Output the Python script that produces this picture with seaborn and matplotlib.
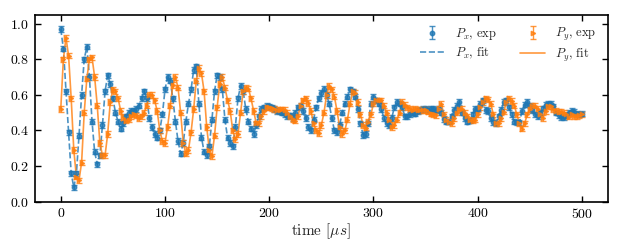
"""
plot.py
Damped precession of P_x and P_y: measured points with error bars and fits.
"""

import numpy as np
import pandas as pd
import matplotlib
matplotlib.use('Agg')  # Use non-interactive backend
import matplotlib.pyplot as plt
import seaborn as sns

# time grid in microseconds (0 .. 500, every 2.5 us)
time_us = np.arange(0, 500.1, 2.5)

px_exp = [
    0.97, 0.86, 0.62, 0.39, 0.16, 0.08, 0.16, 0.37, 0.60, 0.80,
    0.87, 0.70, 0.45, 0.28, 0.21, 0.26, 0.43, 0.62, 0.71, 0.66,
    0.58, 0.50, 0.45, 0.41, 0.44, 0.48, 0.50, 0.51, 0.51, 0.52,
    0.54, 0.58, 0.62, 0.58, 0.47, 0.42, 0.38, 0.36, 0.40, 0.49,
    0.63, 0.70, 0.68, 0.58, 0.45, 0.34, 0.27, 0.33, 0.45, 0.55,
    0.63, 0.74, 0.76, 0.55, 0.36, 0.28, 0.26, 0.31, 0.46, 0.62,
    0.71, 0.70, 0.63, 0.46, 0.36, 0.33, 0.31, 0.42, 0.58, 0.65,
    0.62, 0.52, 0.45, 0.41, 0.38, 0.43, 0.48, 0.52, 0.53, 0.54,
    0.535, 0.53, 0.52, 0.51, 0.505, 0.50, 0.49, 0.48, 0.485, 0.47,
    0.50, 0.53, 0.54, 0.51, 0.47, 0.42, 0.40, 0.46, 0.53, 0.58,
    0.61, 0.635, 0.60, 0.55, 0.47, 0.40, 0.39, 0.43, 0.50, 0.55,
    0.59, 0.63, 0.62, 0.59, 0.52, 0.44, 0.375, 0.38, 0.44, 0.55,
    0.59, 0.57, 0.55, 0.52, 0.47, 0.44, 0.43, 0.47, 0.53, 0.56,
    0.55, 0.53, 0.48, 0.48, 0.49, 0.50, 0.495, 0.51, 0.515, 0.52,
    0.52, 0.515, 0.52, 0.52, 0.515, 0.52, 0.50, 0.465, 0.45, 0.45,
    0.48, 0.515, 0.54, 0.56, 0.50, 0.47, 0.45, 0.455, 0.49, 0.52,
    0.523, 0.55, 0.57, 0.515, 0.51, 0.47, 0.445, 0.44, 0.48, 0.515,
    0.56, 0.57, 0.53, 0.49, 0.45, 0.445, 0.445, 0.51, 0.545, 0.56,
    0.54, 0.515, 0.49, 0.48, 0.50, 0.525, 0.545, 0.55, 0.55, 0.535,
    0.50, 0.485, 0.475, 0.475, 0.485, 0.50, 0.51, 0.505, 0.495, 0.49,
    0.495,
]

py_exp = [
    0.52, 0.80, 0.92, 0.82, 0.58, 0.29, 0.14, 0.12, 0.22, 0.50,
    0.69, 0.80, 0.81, 0.70, 0.54, 0.33, 0.26, 0.26, 0.38, 0.56,
    0.63, 0.62, 0.58, 0.51, 0.47, 0.455, 0.46, 0.48, 0.49, 0.485,
    0.47, 0.48, 0.50, 0.54, 0.60, 0.60, 0.57, 0.51, 0.40, 0.34,
    0.33, 0.42, 0.54, 0.655, 0.70, 0.64, 0.50, 0.33, 0.27, 0.29,
    0.39, 0.52, 0.68, 0.75, 0.72, 0.62, 0.42, 0.29, 0.255, 0.37,
    0.53, 0.66, 0.70, 0.64, 0.57, 0.51, 0.40, 0.35, 0.38, 0.50,
    0.62, 0.64, 0.635, 0.58, 0.51, 0.44, 0.44, 0.48, 0.51, 0.53,
    0.53, 0.525, 0.52, 0.515, 0.515, 0.518, 0.515, 0.50, 0.48, 0.465,
    0.455, 0.48, 0.54, 0.57, 0.58, 0.555, 0.51, 0.44, 0.40, 0.385,
    0.43, 0.50, 0.60, 0.65, 0.63, 0.59, 0.51, 0.42, 0.38, 0.40,
    0.46, 0.55, 0.62, 0.61, 0.56, 0.49, 0.43, 0.415, 0.45, 0.49,
    0.55, 0.57, 0.57, 0.57, 0.54, 0.50, 0.46, 0.42, 0.43, 0.46,
    0.50, 0.56, 0.545, 0.53, 0.52, 0.515, 0.52, 0.515, 0.514, 0.514,
    0.514, 0.505, 0.495, 0.49, 0.486, 0.52, 0.55, 0.49, 0.46, 0.45,
    0.44, 0.47, 0.50, 0.52, 0.52, 0.50, 0.48, 0.46, 0.455, 0.46,
    0.49, 0.53, 0.56, 0.58, 0.575, 0.55, 0.49, 0.44, 0.44, 0.47,
    0.505, 0.56, 0.58, 0.565, 0.54, 0.49, 0.44, 0.41, 0.44, 0.49,
    0.52, 0.54, 0.54, 0.52, 0.49, 0.47, 0.51, 0.535, 0.535, 0.52,
    0.51, 0.505, 0.505, 0.50, 0.49, 0.477, 0.495, 0.48, 0.48, 0.486,
    0.49,
]

# at this resolution the fitted curves run through the measured points
px_fit = px_exp
py_fit = py_exp

err = 0.015  # error bar half-height

BLUE = '#1f77b4'
ORANGE = '#ff7f0e'

sns.set_theme(style='ticks')
plt.rcParams['font.family'] = 'serif'
plt.rcParams['font.serif'] = ['cmr10', 'DejaVu Serif']
plt.rcParams['mathtext.fontset'] = 'cm'
plt.rcParams['axes.formatter.use_mathtext'] = True

df = pd.DataFrame({'time': time_us, 'px_fit': px_fit, 'py_fit': py_fit})

fig = plt.figure(figsize=(6.23, 2.49), dpi=100)
ax = fig.add_axes([0.0557, 0.19, 0.9203, 0.751])

ax.errorbar(time_us, px_exp, yerr=err, fmt='o', color=BLUE, ms=3.2,
            elinewidth=1, capsize=2, capthick=1, alpha=0.8,
            label=r'$P_x$, exp')
sns.lineplot(data=df, x='time', y='px_fit', ax=ax, color=BLUE, lw=1.2,
             ls='--', alpha=0.8, label=r'$P_x$, fit')
ax.errorbar(time_us, py_exp, yerr=err, fmt='>', color=ORANGE, ms=3.2,
            elinewidth=1, capsize=2, capthick=1, alpha=0.8,
            label=r'$P_y$, exp')
sns.lineplot(data=df, x='time', y='py_fit', ax=ax, color=ORANGE, lw=1.2,
             ls='-', alpha=0.8, label=r'$P_y$, fit')

ax.set_xlim(-25, 525)
ax.set_ylim(0, 1.05)
ax.set_xticks([0, 100, 200, 300, 400, 500])
ax.set_yticks([0.0, 0.2, 0.4, 0.6, 0.8, 1.0])
ax.set_xlabel(r'time [$\mu s$]', fontsize=11, labelpad=0)
ax.set_ylabel('')
ax.tick_params(direction='in', top=True, right=True, length=4, width=1,
               labelsize=10, colors='black', pad=4)
for s in ax.spines.values():
    s.set_linewidth(1.2)
    s.set_color('black')

handles, labels = ax.get_legend_handles_labels()
order = [labels.index(l) for l in
         [r'$P_x$, exp', r'$P_x$, fit', r'$P_y$, exp', r'$P_y$, fit']]
ax.legend([handles[i] for i in order], [labels[i] for i in order],
          ncol=2, frameon=False, loc='upper right', fontsize=9,
          handlelength=2.0, handletextpad=0.8, columnspacing=1.9,
          labelspacing=0.3, borderaxespad=0.5)

plt.savefig('out.png', dpi=100)
plt.close()
